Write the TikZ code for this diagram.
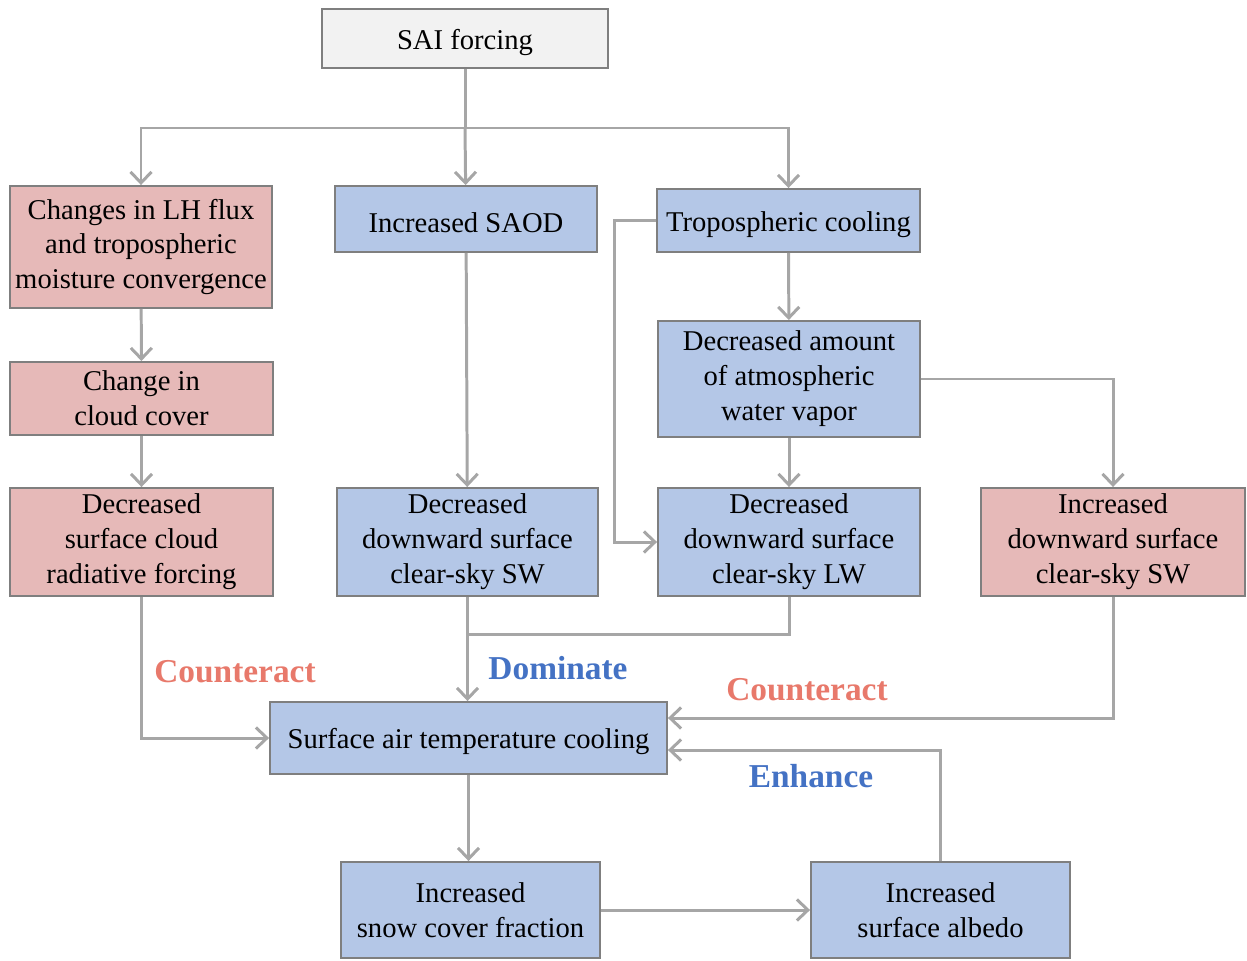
\documentclass[tikz,border=0pt]{standalone}
\usepackage{fontspec}
\setmainfont{Liberation Serif}
\usetikzlibrary{arrows.meta,calc}
\definecolor{pinkfill}{HTML}{E6B9B8}
\definecolor{bluefill}{HTML}{B4C7E7}
\definecolor{greyfill}{HTML}{F2F2F2}
\definecolor{boxline}{HTML}{7F7F7F}
\definecolor{linkgrey}{HTML}{A6A6A6}
\definecolor{redword}{HTML}{E8796B}
\definecolor{blueword}{HTML}{4472C4}
\tikzset{
  box/.style={draw=boxline, line width=1.1pt, align=center, inner sep=0pt,
    font=\fontsize{16.3}{19.9}\selectfont,
    execute at begin node={\rule{0pt}{15.6pt}}},
  pinkbox/.style={box, fill=pinkfill},
  bluebox/.style={box, fill=bluefill},
  greybox/.style={box, fill=greyfill},
  link/.style={draw=linkgrey, line width=1.7pt},
  arrow/.style={link, -{Straight Barb[length=0.22cm, width=0.42cm, line width=1.7pt]}},
  verb/.style={font=\fontsize{19}{21}\selectfont\bfseries}
}

\begin{document}
\begin{tikzpicture}[x=0.02cm, y=-0.02cm]
			%%%%% START %%%%%
			\useasboundingbox (0, 0) rectangle (1247, 960);

			\node[greybox, minimum width=5.72cm, minimum height=1.18cm] (sai) at (465, 38.5) {SAI forcing};

			\node[pinkbox, minimum width=5.24cm, minimum height=2.44cm] (lh) at (141, 247) {Changes in LH flux\\ and tropospheric\\ moisture convergence};
			\node[bluebox, minimum width=5.24cm, minimum height=1.32cm] (saod) at (466, 219) {Increased SAOD};
			\node[bluebox, minimum width=5.26cm, minimum height=1.26cm] (tropo) at (788.5, 220.5) {Tropospheric cooling};

			\node[pinkbox, minimum width=5.26cm, minimum height=1.46cm] (cloud) at (141.5, 398.5) {Change in\\ cloud cover};
			\node[bluebox, minimum width=5.24cm, minimum height=2.32cm] (vapor) at (789, 379) {Decreased amount\\ of atmospheric\\ water vapor};

			\node[pinkbox, minimum width=5.26cm, minimum height=2.16cm] (crf) at (141.5, 542) {Decreased\\ surface cloud\\ radiative forcing};
			\node[bluebox, minimum width=5.22cm, minimum height=2.16cm] (swclr) at (467.5, 542) {Decreased\\ downward surface\\ clear-sky SW};
			\node[bluebox, minimum width=5.24cm, minimum height=2.16cm] (lwclr) at (789, 542) {Decreased\\ downward surface\\ clear-sky LW};
			\node[pinkbox, minimum width=5.28cm, minimum height=2.16cm] (swup) at (1113, 542) {Increased\\ downward surface\\ clear-sky SW};

			\node[bluebox, minimum width=7.94cm, minimum height=1.44cm] (sat) at (468.5, 738) {Surface air temperature cooling};

			\node[bluebox, minimum width=5.18cm, minimum height=1.92cm] (snow) at (470.5, 910) {Increased\\ snow cover fraction};
			\node[bluebox, minimum width=5.18cm, minimum height=1.92cm] (albedo) at (940.5, 910) {Increased\\ surface albedo};

			% forcing splits three ways
			\coordinate (split) at (465, 128);
			\draw[link] (sai) -- (split);
			\draw[arrow] (split) -| (lh.north);
			\draw[arrow] (split) -- (saod);
			\draw[arrow] (split) -| (tropo.north);

			% left column
			\draw[arrow] (lh) -- (cloud);
			\draw[arrow] (cloud) -- (crf);
			\draw[arrow] (crf.south) |- (sat.west);

			% middle columns
			\draw[arrow] (saod) -- (swclr);
			\draw[arrow] (tropo.west) -- ++(-42, 0) |- (lwclr.west);
			\draw[arrow] (tropo) -- (vapor);
			\draw[arrow] (vapor) -- (lwclr);
			\draw[arrow] (vapor.east) -| (swup.north);

			\path (swclr.south) ++(0, 38) coordinate (join);
			\draw[link] (lwclr.south) |- (join);
			\draw[arrow] (swclr.south) -- (swclr.south |- sat.north);

			% feedbacks on the right
			\draw[arrow] (swup.south) |- ($(sat.east)+(0, -20)$);
			\draw[arrow] (albedo.north) |- ($(sat.east)+(0, 12)$);

			\draw[arrow] (sat.south) -- (sat.south |- snow.north);
			\draw[arrow] (snow) -- (albedo);

			\node[verb, text=redword] (w1) at (235, 672) {Counteract};
			\node[verb, text=blueword] (w2) at (558, 668) {Dominate};
			\node[verb, text=redword] (w3) at (807, 690) {Counteract};
			\node[verb, text=blueword] (w4) at (811, 776) {Enhance};
			%%%%% END %%%%%
\end{tikzpicture}
\end{document}
